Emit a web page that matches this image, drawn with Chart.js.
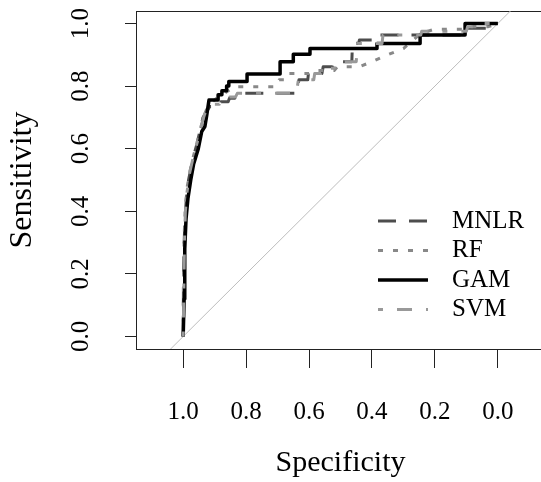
<!DOCTYPE html>
<html>
<head>
<meta charset="utf-8">
<title>ROC curves</title>
<script src="https://cdn.jsdelivr.net/npm/chart.js@4/dist/chart.umd.min.js"></script>
<style>
  html, body { margin: 0; padding: 0; background: #fff; overflow: hidden; }
  canvas { display: block; }
</style>
</head>
<body>
<canvas id="roc-chart" width="560" height="482"></canvas>
<script>
// tick labels
const xTicks = [1.0, 0.8, 0.6, 0.4, 0.2, 0.0];
const yTicks = [0.0, 0.2, 0.4, 0.6, 0.8, 1.0];

// ROC curves (specificity, sensitivity)
const mnlrSpec = [1.000, 0.999, 0.997, 0.994, 0.990, 0.983, 0.975, 0.966, 0.955, 0.946, 0.937, 0.925, 0.915, 0.883, 0.880, 0.857, 0.853, 0.836, 0.830, 0.640, 0.632, 0.604, 0.602, 0.559, 0.555, 0.525, 0.520, 0.464, 0.462, 0.442, 0.440, 0.381, 0.378, 0.104, 0.100, 0.030, 0.026, 0.000];
const mnlrSens = [0.000, 0.200, 0.300, 0.380, 0.440, 0.500, 0.540, 0.580, 0.620, 0.660, 0.700, 0.720, 0.735, 0.735, 0.750, 0.750, 0.761, 0.761, 0.777, 0.777, 0.820, 0.820, 0.840, 0.840, 0.862, 0.862, 0.878, 0.878, 0.937, 0.937, 0.947, 0.947, 0.963, 0.963, 0.985, 0.985, 1.000, 1.000];

const rfSpec = [1.000, 0.999, 0.997, 0.993, 0.987, 0.978, 0.968, 0.957, 0.947, 0.937, 0.926, 0.912, 0.895, 0.872, 0.850, 0.840, 0.705, 0.695, 0.672, 0.665, 0.600, 0.585, 0.520, 0.510, 0.440, 0.400, 0.350, 0.300, 0.245, 0.200, 0.110, 0.090, 0.030, 0.000];
const rfSens = [0.000, 0.180, 0.320, 0.420, 0.480, 0.530, 0.575, 0.615, 0.655, 0.695, 0.725, 0.745, 0.760, 0.775, 0.790, 0.798, 0.798, 0.820, 0.820, 0.840, 0.840, 0.850, 0.850, 0.862, 0.862, 0.878, 0.900, 0.920, 0.968, 0.982, 0.982, 0.990, 0.990, 1.000];

const gamSpec = [1.000, 0.997, 0.995, 0.991, 0.985, 0.976, 0.967, 0.952, 0.941, 0.931, 0.925, 0.918, 0.889, 0.889, 0.877, 0.877, 0.862, 0.862, 0.855, 0.855, 0.797, 0.797, 0.692, 0.692, 0.650, 0.650, 0.597, 0.597, 0.384, 0.384, 0.247, 0.247, 0.104, 0.104, 0.000];
const gamSens = [0.000, 0.120, 0.280, 0.375, 0.440, 0.500, 0.550, 0.600, 0.655, 0.671, 0.708, 0.756, 0.756, 0.772, 0.772, 0.785, 0.785, 0.800, 0.800, 0.815, 0.815, 0.839, 0.839, 0.878, 0.878, 0.902, 0.902, 0.920, 0.920, 0.936, 0.936, 0.963, 0.963, 1.000, 1.000];

const svmSpec = [1.000, 0.998, 0.996, 0.993, 0.988, 0.980, 0.971, 0.961, 0.950, 0.941, 0.932, 0.921, 0.910, 0.885, 0.880, 0.858, 0.852, 0.834, 0.828, 0.640, 0.634, 0.585, 0.582, 0.555, 0.550, 0.520, 0.515, 0.450, 0.446, 0.368, 0.365, 0.245, 0.242, 0.100, 0.096, 0.050, 0.046, 0.000];
const svmSens = [0.000, 0.150, 0.300, 0.400, 0.460, 0.520, 0.560, 0.600, 0.640, 0.680, 0.710, 0.730, 0.742, 0.742, 0.752, 0.752, 0.765, 0.765, 0.777, 0.777, 0.820, 0.820, 0.840, 0.840, 0.857, 0.857, 0.878, 0.878, 0.936, 0.936, 0.963, 0.963, 0.975, 0.975, 0.990, 0.990, 1.000, 1.000];

// chance line, runs across the whole plot
const chanceSpec = [1.2, -0.2];
const chanceSens = [-0.2, 1.2];

const legendOrder = ['MNLR', 'RF', 'GAM', 'SVM'];

const serif = "'Liberation Serif', 'Times New Roman', serif";

const curve = (label, spec, sens, color, width, dash, order) => ({
  label,
  data: spec.map((s, i) => ({ x: s, y: sens[i] })),
  borderColor: color,
  borderWidth: width,
  borderDash: dash,
  borderJoinStyle: 'round',
  pointRadius: 0,
  tension: 0,
  fill: false,
  clip: 0,
  order,
});

// box around the plot and the legend in the lower right
const frame = {
  id: 'frame',
  beforeDatasetsDraw(chart) {
    const { ctx, chartArea: a } = chart;
    ctx.save();
    ctx.strokeStyle = '#222';
    ctx.lineWidth = 1;
    ctx.strokeRect(a.left + 0.5, a.top + 0.5, a.right - a.left, a.bottom - a.top);
    ctx.restore();
  },
  afterDraw(chart) {
    const { ctx } = chart;
    ctx.save();
    ctx.font = '25px ' + serif;
    ctx.textBaseline = 'middle';
    ctx.fillStyle = '#000';
    legendOrder.forEach((name, i) => {
      const ds = chart.data.datasets.find(d => d.label === name);
      const y = 221 + i * 29.5;
      ctx.beginPath();
      ctx.setLineDash(ds.borderDash || []);
      ctx.strokeStyle = ds.borderColor;
      ctx.lineWidth = ds.borderWidth;
      ctx.moveTo(378, y);
      ctx.lineTo(428, y);
      ctx.stroke();
      ctx.setLineDash([]);
      ctx.fillText(name, 452, y);
    });
    ctx.restore();
  },
};

const ctx = document.getElementById('roc-chart').getContext('2d');
new Chart(ctx, {
  type: 'line',
  data: {
    datasets: [
      curve('chance', chanceSpec, chanceSens, '#bdbdbd', 1, [], 5),
      curve('MNLR', mnlrSpec, mnlrSens, '#4d4d4d', 3, [18, 13], 4),
      curve('RF', rfSpec, rfSens, '#888888', 3, [5, 10], 3),
      curve('GAM', gamSpec, gamSens, '#000000', 3.5, [], 2),
      curve('SVM', svmSpec, svmSens, '#999999', 3, [5, 14, 15, 14], 1),
    ],
  },
  options: {
    responsive: false,
    animation: false,
    events: [],
    layout: { padding: { top: 11, right: 15, left: 0, bottom: 0 } },
    plugins: {
      legend: { display: false },
      tooltip: { enabled: false },
    },
    scales: {
      x: {
        type: 'linear',
        reverse: true,
        min: -0.15,
        max: 1.15,
        afterBuildTicks: s => { s.ticks = xTicks.map(v => ({ value: v })); },
        afterFit: s => { s.height = 133; s.paddingLeft = 0; s.paddingRight = 0; },
        grid: { drawOnChartArea: false, tickLength: 19, color: '#222' },
        border: { display: false },
        ticks: {
          autoSkip: false,
          minRotation: 0,
          maxRotation: 0,
          padding: 29,
          color: '#000',
          font: { family: serif, size: 25 },
          callback: v => v.toFixed(1),
        },
        title: {
          display: true,
          text: 'Specificity',
          color: '#000',
          font: { family: serif, size: 30 },
          padding: { top: 0, bottom: 1 },
        },
      },
      y: {
        type: 'linear',
        min: -0.04,
        max: 1.04,
        afterBuildTicks: s => { s.ticks = yTicks.map(v => ({ value: v })); },
        afterFit: s => { s.width = 136; s.paddingTop = 0; s.paddingBottom = 0; },
        grid: { drawOnChartArea: false, tickLength: 11, color: '#222' },
        border: { display: false },
        ticks: {
          autoSkip: false,
          minRotation: 90,
          maxRotation: 90,
          crossAlign: 'center',
          padding: 28,
          color: '#000',
          font: { family: serif, size: 25 },
          callback: v => v.toFixed(1),
        },
        title: {
          display: true,
          text: 'Sensitivity',
          color: '#000',
          font: { family: serif, size: 32 },
          padding: { top: 3, bottom: 0 },
        },
      },
    },
  },
  plugins: [frame],
});
</script>
</body>
</html>
